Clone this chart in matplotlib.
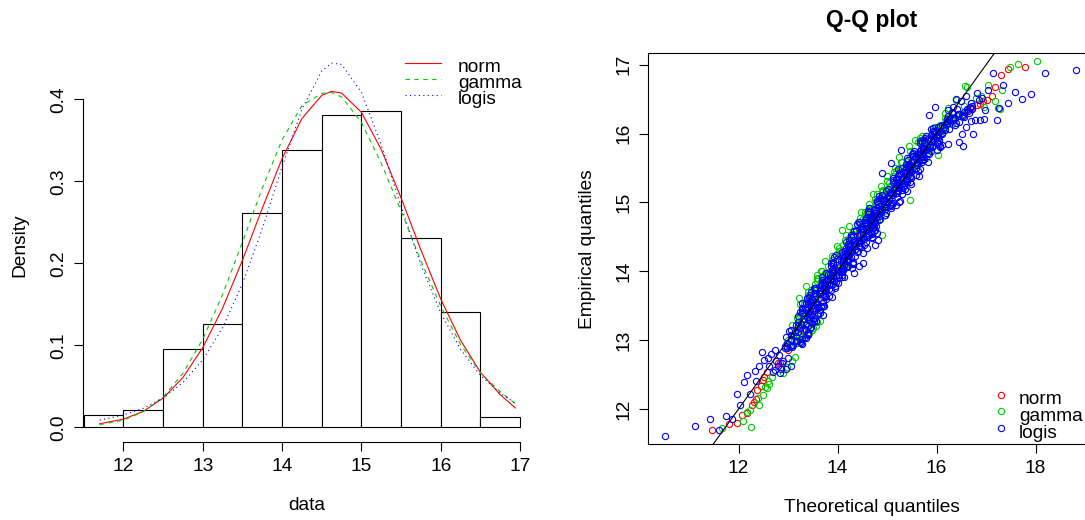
import numpy as np
import matplotlib.pyplot as plt
from matplotlib.lines import Line2D

plt.rcParams['font.family'] = ['Liberation Sans', 'DejaVu Sans']
plt.rcParams['font.size'] = 13.8

W, H = 1085, 520

# histogram (density) of the data
bin_edges = [11.5, 12.0, 12.5, 13.0, 13.5, 14.0, 14.5, 15.0, 15.5, 16.0, 16.5, 17.0]
bin_density = [0.0146, 0.0207, 0.0956, 0.1260, 0.2610, 0.3380, 0.3810, 0.3860, 0.2305, 0.1407, 0.0127]

# fitted densities
curve_x = [11.70, 12.00, 12.25, 12.50, 12.75, 13.00, 13.25, 13.50, 13.75, 14.00, 14.25, 14.50,
           14.625, 14.75, 15.00, 15.25, 15.50, 15.75, 16.00, 16.25, 16.50, 16.75, 16.94]
norm_dens = [0.0045, 0.0100, 0.0196, 0.0357, 0.0609, 0.0973, 0.1456, 0.2039, 0.2673, 0.3280, 0.3768, 0.4051,
             0.4099, 0.4078, 0.3843, 0.3389, 0.2799, 0.2164, 0.1565, 0.1061, 0.0672, 0.0399, 0.0237]
gamma_dens = [0.0033, 0.0088, 0.0191, 0.0371, 0.0659, 0.1077, 0.1621, 0.2260, 0.2919, 0.3508, 0.3925, 0.4075,
              0.4085, 0.4030, 0.3720, 0.3220, 0.2640, 0.2030, 0.1480, 0.1010, 0.0665, 0.0435, 0.0290]
logis_dens = [0.0089, 0.0151, 0.0233, 0.0359, 0.0547, 0.0824, 0.1218, 0.1754, 0.2425, 0.3178, 0.3882, 0.4349,
              0.4443, 0.4428, 0.4088, 0.3448, 0.2694, 0.1982, 0.1396, 0.0952, 0.0635, 0.0418, 0.0295]

# Q-Q points (theoretical, empirical)
norm_qq = [
    (11.47, 11.69), (11.81, 11.78), (11.96, 11.79), (12.06, 11.91), (12.16, 11.94), (12.28, 12.05),
    (12.32, 12.10), (12.36, 12.14), (12.45, 12.33), (12.38, 12.28), (12.50, 12.42), (12.52, 12.46),
    (12.58, 12.53), (12.80, 12.66), (12.83, 12.67),
    (13.00, 12.85), (13.15, 13.00), (13.28, 13.15), (13.40, 13.30), (13.52, 13.45), (13.63, 13.60),
    (13.75, 13.75), (13.87, 13.90), (13.98, 14.02), (14.10, 14.15), (14.22, 14.28), (14.35, 14.40),
    (14.47, 14.52), (14.60, 14.65), (14.72, 14.78), (14.85, 14.90), (14.97, 15.02), (15.10, 15.15),
    (15.23, 15.28), (15.36, 15.40), (15.50, 15.52), (15.63, 15.64), (15.76, 15.76), (15.90, 15.88),
    (16.00, 15.97), (16.05, 16.04), (16.15, 16.12), (16.25, 16.18), (16.35, 16.22),
    (16.44, 16.26), (16.54, 16.29), (16.61, 16.34), (16.71, 16.37), (16.81, 16.42), (16.87, 16.43),
    (16.94, 16.47), (17.01, 16.49), (17.11, 16.54), (17.18, 16.67), (17.30, 16.85), (17.45, 16.94),
    (17.78, 16.97),
]

gamma_qq = [
    # lower tail
    (11.66, 11.72), (12.25, 11.73), (12.09, 11.82), (12.16, 11.96), (12.23, 11.99), (12.41, 12.05),
    (12.40, 12.16), (12.50, 12.20), (12.57, 12.30), (12.53, 12.32), (12.62, 12.36), (12.60, 12.40),
    (12.67, 12.47), (12.90, 12.52), (12.97, 12.61), (13.07, 12.69), (13.14, 12.76),
    # band
    (12.98, 12.90), (13.04, 12.92), (13.01, 12.94), (13.18, 12.96), (13.25, 12.98), (12.99, 13.00),
    (13.24, 13.02), (13.28, 13.04), (13.09, 13.06), (13.30, 13.08), (13.42, 13.10), (13.41, 13.12),
    (13.49, 13.14), (13.19, 13.16), (13.23, 13.18), (13.57, 13.20), (13.22, 13.22), (13.47, 13.24),
    (13.58, 13.26), (13.65, 13.28), (13.08, 13.22), (13.50, 13.17),
    (13.35, 13.30), (13.17, 13.32), (13.22, 13.34), (13.24, 13.36), (13.35, 13.38), (13.40, 13.40),
    (13.53, 13.42), (13.64, 13.44), (13.38, 13.46), (13.69, 13.48), (13.47, 13.50), (13.33, 13.52),
    (13.40, 13.54), (13.51, 13.56), (13.41, 13.58),
    (13.38, 13.60), (13.51, 13.62), (13.68, 13.64), (13.40, 13.66), (13.53, 13.68), (13.64, 13.70),
    (13.46, 13.72), (13.56, 13.74), (13.59, 13.76), (13.63, 13.78), (13.87, 13.80), (13.55, 13.82),
    (13.67, 13.84), (13.73, 13.86), (13.60, 13.88), (13.59, 13.90), (13.76, 13.92), (13.72, 13.94),
    (13.86, 13.96), (13.75, 13.98), (13.66, 14.00), (13.96, 14.02), (14.02, 14.04), (14.13, 14.06),
    (14.13, 14.08), (14.17, 14.10), (13.90, 14.12), (14.20, 14.14), (13.89, 14.16), (14.10, 14.18),
    (13.92, 14.20), (14.04, 14.22), (13.97, 14.24), (14.05, 14.26), (14.20, 14.28), (14.02, 14.30),
    (14.38, 14.32), (14.03, 14.34), (14.23, 14.36), (14.11, 14.38), (14.29, 14.40), (14.42, 14.42),
    (14.42, 14.44), (14.31, 14.46), (14.23, 14.48), (14.50, 14.50), (14.59, 14.52), (14.31, 14.54),
    (14.43, 14.56), (14.48, 14.58), (14.57, 14.60), (14.49, 14.62), (14.68, 14.64), (14.56, 14.66),
    (14.56, 14.68), (14.67, 14.70), (14.58, 14.72), (14.79, 14.74), (14.51, 14.76), (14.78, 14.78),
    (14.62, 14.80), (14.55, 14.82), (14.62, 14.84), (14.56, 14.86), (14.94, 14.88), (14.95, 14.90),
    (14.70, 14.92), (14.96, 14.94), (14.77, 14.96), (14.95, 14.98), (14.81, 15.00), (14.78, 15.02),
    (14.87, 15.04), (15.00, 15.06), (15.02, 15.08), (14.94, 15.10), (14.80, 15.12), (15.05, 15.14),
    (14.90, 15.16), (15.00, 15.18), (15.07, 15.20), (15.07, 15.22), (15.06, 15.24), (15.14, 15.26),
    (15.04, 15.28), (15.27, 15.30), (15.28, 15.32), (15.39, 15.34), (15.32, 15.36), (15.12, 15.38),
    (15.40, 15.40), (15.45, 15.42), (15.13, 15.44), (15.30, 15.46), (15.44, 15.48), (15.27, 15.50),
    (15.48, 15.52), (15.42, 15.54), (15.62, 15.56), (15.30, 15.58),
    (14.09, 14.60), (14.90, 14.53), (15.46, 15.04), (16.03, 15.69),
    (15.40, 15.60), (15.62, 15.62), (15.78, 15.64), (15.46, 15.66), (15.71, 15.68), (15.66, 15.70),
    (15.62, 15.72), (15.67, 15.74), (15.82, 15.76), (15.87, 15.78), (15.90, 15.80), (15.85, 15.82),
    (15.86, 15.84), (16.00, 15.86), (15.63, 15.88), (15.69, 15.90), (15.74, 15.92), (15.67, 15.94),
    (15.94, 15.96), (16.07, 15.98),
    (15.95, 16.00), (15.91, 16.02), (16.10, 16.04), (16.17, 16.06), (16.16, 16.08), (15.96, 16.10),
    (16.07, 16.12), (16.31, 16.14), (16.24, 16.16), (16.32, 16.18), (16.18, 16.20), (16.17, 16.22),
    (16.32, 16.24), (16.43, 16.26), (16.53, 16.28), (16.17, 16.30),
    # left fringe of the band
    (13.24, 13.52), (13.22, 13.61), (13.40, 13.70), (13.37, 13.79), (13.58, 13.86), (13.58, 13.95),
    (13.68, 14.00), (13.81, 14.08), (13.74, 14.15), (13.88, 14.22), (14.02, 14.30), (13.98, 14.36),
    (14.14, 14.45), (14.16, 14.52), (14.31, 14.58), (14.24, 14.66), (14.42, 14.71), (14.45, 14.78),
    (14.47, 14.86), (14.66, 14.92), (14.63, 14.98), (14.75, 15.05), (14.72, 15.12), (14.91, 15.18),
    (14.88, 15.24), (14.99, 15.31), (15.00, 15.38), (15.17, 15.45), (15.16, 15.50), (15.28, 15.58),
    (15.25, 15.66), (15.46, 15.74), (15.45, 15.82), (15.57, 15.90), (15.70, 15.97),
    # upper tail
    (16.23, 16.37), (16.39, 16.49), (16.55, 16.40), (16.70, 16.45), (16.80, 16.52), (16.90, 16.55),
    (16.95, 16.38), (16.62, 16.67), (16.57, 16.69), (17.04, 16.71), (17.18, 16.47), (17.24, 16.37),
    (17.29, 16.35), (17.33, 16.63), (17.48, 16.97), (17.65, 17.01), (18.02, 17.05),
]

logis_qq = [
    # lower tail
    (10.51, 11.60), (11.12, 11.75), (11.42, 11.85), (11.60, 11.70), (11.74, 11.90), (11.86, 11.85),
    (12.03, 12.05), (11.96, 12.22), (12.11, 12.39), (12.17, 12.49), (12.23, 12.22), (12.33, 12.55),
    (12.35, 12.40), (12.42, 12.62), (12.48, 12.83), (12.51, 12.71), (12.60, 12.74), (12.73, 12.86),
    (12.62, 12.63), (12.70, 12.54), (12.82, 12.78), (12.76, 12.70), (12.88, 12.66), (12.66, 12.80),
    (12.85, 12.58), (12.79, 12.62), (12.73, 12.57), (12.83, 12.52), (12.95, 12.58), (13.05, 12.62),
    (12.90, 12.70), (13.00, 12.74),
    # band
    (12.93, 12.88), (12.98, 12.89), (13.07, 12.90), (12.93, 12.91), (13.06, 12.92), (13.10, 12.93),
    (13.28, 12.94), (13.27, 12.95), (12.97, 12.96), (13.25, 12.97), (13.16, 12.98), (13.18, 12.99),
    (13.05, 13.00), (13.29, 13.01), (13.05, 13.02), (13.36, 13.03), (12.96, 13.04), (13.35, 13.05),
    (13.15, 13.06), (13.41, 13.07), (13.06, 13.08), (13.41, 13.09),
    (13.40, 13.10), (13.13, 13.11), (13.20, 13.12), (13.01, 13.13), (13.36, 13.14), (13.05, 13.15),
    (13.35, 13.16), (13.44, 13.17), (13.24, 13.18), (13.46, 13.19), (13.19, 13.20), (13.41, 13.21),
    (13.15, 13.22), (13.27, 13.23), (13.37, 13.24), (13.49, 13.25), (13.21, 13.26), (13.52, 13.27),
    (13.57, 13.28), (13.42, 13.29), (13.51, 13.30), (13.32, 13.31), (13.54, 13.32), (13.42, 13.33),
    (13.38, 13.34),
    (13.20, 13.35), (13.47, 13.36), (13.47, 13.37), (13.61, 13.38), (13.28, 13.39), (13.41, 13.40),
    (13.24, 13.41), (13.51, 13.42), (13.29, 13.43), (13.36, 13.44), (13.35, 13.45), (13.29, 13.46),
    (13.55, 13.47), (13.59, 13.48), (13.70, 13.49), (13.67, 13.50), (13.51, 13.51), (13.36, 13.52),
    (13.57, 13.53), (13.36, 13.54), (13.71, 13.55), (13.46, 13.56), (13.44, 13.57), (13.49, 13.58),
    (13.54, 13.59),
    (13.76, 13.60), (13.39, 13.61), (13.42, 13.62), (13.75, 13.63), (13.75, 13.64), (13.45, 13.65),
    (13.74, 13.66), (13.64, 13.67), (13.55, 13.68), (13.62, 13.69), (13.46, 13.70), (13.77, 13.71),
    (13.55, 13.72), (13.65, 13.73), (13.72, 13.74), (13.55, 13.75), (13.53, 13.76), (13.76, 13.77),
    (13.95, 13.78), (13.73, 13.79), (13.82, 13.80), (13.69, 13.81), (13.78, 13.82), (14.00, 13.83),
    (13.81, 13.84),
    (13.71, 13.85), (13.76, 13.86), (13.68, 13.87), (13.89, 13.88), (13.80, 13.89), (14.02, 13.90),
    (13.68, 13.91), (14.08, 13.92), (13.91, 13.93), (13.96, 13.94), (14.09, 13.95), (13.84, 13.96),
    (13.90, 13.97), (13.76, 13.98), (14.09, 13.99), (14.06, 14.00), (14.02, 14.01), (14.11, 14.02),
    (13.90, 14.03), (14.11, 14.04), (14.08, 14.05), (14.16, 14.06), (13.87, 14.07), (14.04, 14.08),
    (14.13, 14.09),
    (13.90, 14.10), (13.90, 14.11), (13.87, 14.12), (13.90, 14.13), (14.10, 14.14), (14.07, 14.15),
    (14.12, 14.16), (14.18, 14.17), (13.99, 14.18), (14.10, 14.19), (13.92, 14.20), (14.13, 14.21),
    (14.20, 14.22), (13.96, 14.23), (14.19, 14.24), (14.10, 14.25), (14.26, 14.26), (14.19, 14.27),
    (14.08, 14.28), (14.14, 14.29), (14.42, 14.30), (14.28, 14.31), (14.35, 14.32), (14.30, 14.33),
    (14.16, 14.34), (14.46, 14.35), (14.25, 14.36), (14.20, 14.37), (14.25, 14.38), (14.21, 14.39),
    (14.37, 14.40), (14.43, 14.41), (14.16, 14.42), (14.40, 14.43), (14.43, 14.44), (14.23, 14.45),
    (14.43, 14.46), (14.54, 14.47), (14.52, 14.48), (14.59, 14.49), (14.28, 14.50), (14.31, 14.51),
    (14.64, 14.52), (14.28, 14.53), (14.52, 14.54), (14.62, 14.55), (14.68, 14.56), (14.52, 14.57),
    (14.33, 14.58), (14.37, 14.59), (14.38, 14.60), (14.48, 14.61), (14.52, 14.62), (14.64, 14.63),
    (14.74, 14.64), (14.47, 14.65), (14.77, 14.66), (14.54, 14.67), (14.39, 14.68), (14.45, 14.69),
    (14.55, 14.70), (14.44, 14.71), (14.56, 14.72), (14.68, 14.73), (14.84, 14.74), (14.55, 14.75),
    (14.67, 14.76), (14.77, 14.77), (14.58, 14.78), (14.67, 14.79), (14.69, 14.80), (14.72, 14.81),
    (14.95, 14.82), (14.62, 14.83), (14.73, 14.84), (14.78, 14.85), (14.64, 14.86), (14.62, 14.87),
    (14.78, 14.88), (14.73, 14.89), (14.86, 14.90), (14.74, 14.91), (14.64, 14.92), (14.93, 14.93),
    (14.98, 14.94), (15.08, 14.95), (15.07, 14.96), (15.10, 14.97), (14.82, 14.98), (15.11, 14.99),
    (14.79, 15.00), (14.99, 15.01), (14.80, 15.02), (14.91, 15.03), (14.83, 15.04), (14.90, 15.05),
    (15.04, 15.06), (14.85, 15.07), (15.20, 15.08), (14.84, 15.09), (15.03, 15.10), (14.90, 15.11),
    (15.07, 15.12), (15.19, 15.13), (15.18, 15.14), (15.06, 15.15), (14.97, 15.16), (15.23, 15.17),
    (15.31, 15.18), (15.02, 15.19), (15.13, 15.20), (15.17, 15.21), (15.25, 15.22), (15.16, 15.23),
    (15.34, 15.24), (15.21, 15.25), (15.20, 15.26), (15.30, 15.27), (15.20, 15.28), (15.40, 15.29),
    (15.11, 15.30), (15.37, 15.31), (15.20, 15.32), (15.12, 15.33), (15.18, 15.34), (15.11, 15.35),
    (15.48, 15.36), (15.48, 15.37), (15.22, 15.38), (15.47, 15.39), (15.27, 15.40), (15.44, 15.41),
    (15.29, 15.42), (15.25, 15.43), (15.33, 15.44), (15.45, 15.45), (15.46, 15.46), (15.37, 15.47),
    (15.22, 15.48), (15.46, 15.49), (15.30, 15.50), (15.39, 15.51), (15.45, 15.52), (15.44, 15.53),
    (15.42, 15.54), (15.49, 15.55), (15.38, 15.56), (15.60, 15.57), (15.60, 15.58), (15.70, 15.59),
    (15.64, 15.60), (15.43, 15.61), (15.70, 15.62), (15.74, 15.63), (15.41, 15.64), (15.57, 15.65),
    (15.70, 15.66), (15.52, 15.67), (15.72, 15.68), (15.65, 15.69), (15.84, 15.70), (15.51, 15.71),
    (15.52, 15.72), (15.73, 15.73), (15.88, 15.74), (15.55, 15.75), (15.79, 15.76), (15.73, 15.77),
    (15.68, 15.78), (15.72, 15.79), (15.86, 15.80), (15.90, 15.81), (15.92, 15.82), (15.86, 15.83),
    (15.86, 15.84),
    (16.04, 15.85), (15.66, 15.86), (15.71, 15.87), (15.75, 15.88), (15.67, 15.89), (15.93, 15.90),
    (16.05, 15.91), (15.82, 15.92), (15.77, 15.93), (15.95, 15.94), (16.01, 15.95), (15.99, 15.96),
    (15.78, 15.97), (15.88, 15.98), (16.11, 15.99), (16.03, 16.00), (16.10, 16.01), (15.95, 16.02),
    (15.93, 16.03), (16.07, 16.04), (16.17, 16.05), (16.26, 16.06), (15.89, 16.07), (15.93, 16.08),
    (16.03, 16.09),
    (16.14, 16.10), (16.06, 16.11), (16.38, 16.12), (16.10, 16.13), (16.22, 16.14), (16.40, 16.15),
    (16.22, 16.16), (16.45, 16.17), (16.20, 16.18), (16.25, 16.19), (16.34, 16.20), (16.20, 16.21),
    (16.33, 16.22), (16.37, 16.23), (16.55, 16.24), (16.54, 16.25), (16.24, 16.26), (16.52, 16.27),
    (16.43, 16.28), (16.45, 16.29), (16.32, 16.30), (16.56, 16.31), (16.32, 16.32), (16.63, 16.33),
    (16.23, 16.34), (16.62, 16.35), (16.42, 16.36), (16.68, 16.37), (16.33, 16.38), (16.68, 16.39),
    (16.72, 16.40),
    # band, right-hand side
    (13.64, 13.40), (13.44, 13.42), (13.65, 13.44), (13.50, 13.46), (13.41, 13.48), (13.72, 13.50),
    (13.43, 13.52), (13.54, 13.54), (13.56, 13.56), (13.49, 13.58), (13.48, 13.60), (13.88, 13.62),
    (13.82, 13.64), (13.75, 13.66), (13.64, 13.68), (13.69, 13.70), (13.87, 13.72), (13.83, 13.74),
    (13.94, 13.76), (13.74, 13.78), (13.67, 13.80), (13.91, 13.82), (13.96, 13.84), (13.93, 13.86),
    (13.78, 13.88), (13.86, 13.90), (14.12, 13.92), (14.03, 13.94), (13.80, 13.96), (13.91, 13.98),
    (13.90, 14.00), (13.88, 14.02), (14.29, 14.04), (14.19, 14.06), (14.22, 14.08), (14.31, 14.10),
    (14.32, 14.12), (14.31, 14.14), (14.20, 14.16), (14.19, 14.18), (14.27, 14.20), (14.36, 14.22),
    (14.15, 14.24), (14.51, 14.26), (14.39, 14.28), (14.21, 14.30), (14.23, 14.32), (14.59, 14.34),
    (14.43, 14.36), (14.53, 14.38), (14.36, 14.40), (14.57, 14.42), (14.47, 14.44), (14.34, 14.46),
    (14.70, 14.48), (14.69, 14.50), (14.45, 14.52), (14.69, 14.54), (14.80, 14.56), (14.73, 14.58),
    (14.76, 14.60), (14.57, 14.62), (14.71, 14.64), (14.67, 14.66), (14.72, 14.68), (14.76, 14.70),
    (14.73, 14.72), (14.67, 14.74), (14.86, 14.76), (14.65, 14.78), (14.83, 14.80), (14.95, 14.82),
    (14.97, 14.84), (14.88, 14.86), (14.83, 14.88), (14.90, 14.90), (15.08, 14.92), (14.94, 14.94),
    (15.17, 14.96), (14.95, 14.98), (15.24, 15.00), (15.27, 15.02), (14.93, 15.04), (15.03, 15.06),
    (15.00, 15.08), (15.11, 15.10), (15.31, 15.12), (15.08, 15.14), (15.40, 15.16), (15.23, 15.18),
    (15.36, 15.20), (15.29, 15.22), (15.33, 15.24), (15.49, 15.26), (15.34, 15.28), (15.46, 15.30),
    (15.41, 15.32), (15.40, 15.34), (15.32, 15.36), (15.64, 15.38), (15.59, 15.40), (15.36, 15.42),
    (15.48, 15.44), (15.63, 15.46), (15.67, 15.48), (15.58, 15.50), (15.44, 15.52), (15.60, 15.54),
    (15.44, 15.56), (15.83, 15.58), (15.51, 15.60), (15.73, 15.62), (15.62, 15.64), (15.58, 15.66),
    (15.69, 15.68), (15.61, 15.70), (15.83, 15.72), (15.66, 15.74), (16.01, 15.76), (15.75, 15.78),
    (16.06, 15.80), (16.06, 15.82), (16.10, 15.84), (16.03, 15.86), (16.01, 15.88), (15.75, 15.90),
    (15.88, 15.92), (16.03, 15.94), (15.93, 15.96), (16.01, 15.98),
    # scattered points off the band
    (14.43, 14.07), (14.52, 14.12), (14.33, 13.98), (14.76, 14.38), (14.82, 14.45), (14.90, 15.43),
    (15.07, 15.57), (15.29, 15.76), (13.29, 13.54), (13.71, 13.37),
    # upper tail
    (16.54, 15.82), (16.24, 15.85), (16.45, 15.88), (16.52, 16.00), (16.74, 16.00), (16.60, 16.10),
    (16.70, 16.18), (16.77, 16.20), (16.87, 16.20), (16.95, 16.21), (16.66, 16.30), (16.98, 16.34),
    (16.71, 16.35), (17.26, 16.37), (15.96, 16.39), (17.45, 16.44), (16.70, 16.45), (17.72, 16.50),
    (16.60, 16.55), (17.90, 16.58), (16.81, 16.59), (17.58, 16.61), (17.04, 16.63), (17.35, 16.71),
    (17.14, 16.88), (18.19, 16.88), (18.81, 16.92), (17.21, 16.20), (15.84, 16.27), (16.85, 16.48),
    (16.92, 16.52), (16.50, 16.47), (16.40, 16.50),
]

fit_names = ['norm', 'gamma', 'logis']
fit_colors = ['#FF0000', '#00CD00', '#0000FF']
fit_styles = ['-', (0, (4, 4)), (0, (1, 3))]

fig = plt.figure(figsize=(W / 100, H / 100), dpi=100)

# ---- density comparison ----
ax1 = fig.add_axes([83 / W, (H - 442) / H, 449 / W, 394 / H])
ax1.bar(bin_edges[:-1], bin_density, width=np.diff(bin_edges), align='edge',
        facecolor='white', edgecolor='black', linewidth=0.8)
for dens, col, ls in zip([norm_dens, gamma_dens, logis_dens], fit_colors, fit_styles):
    ax1.plot(curve_x, dens, color=col, linestyle=ls, linewidth=0.8)
ax1.set_xlim(11.49, 17.15)
ax1.set_ylim(-0.0178, 0.4628)
for s in ['top', 'right']:
    ax1.spines[s].set_visible(False)
ax1.spines['left'].set_bounds(0, 0.4)
ax1.spines['bottom'].set_bounds(12, 17)
ax1.set_xticks([12, 13, 14, 15, 16, 17])
ax1.set_yticks([0, 0.1, 0.2, 0.3, 0.4])
ax1.set_yticklabels(['0.0', '0.1', '0.2', '0.3', '0.4'], rotation=90, va='center')
fig.text(307 / W, 1 - 505 / H, 'data', ha='center', va='center')
fig.text(20 / W, 1 - 245 / H, 'Density', ha='center', va='center', rotation=90)

for i, (name, col, ls) in enumerate(zip(fit_names, fit_colors, fit_styles)):
    ly = [63, 79, 94.5][i]
    fig.add_artist(Line2D([405 / W, 441 / W], [1 - ly / H] * 2, color=col, linestyle=ls,
                          linewidth=0.8, transform=fig.transFigure))
    fig.text(458 / W, 1 - [72.5, 88, 103.5][i] / H, name, ha='left', va='baseline')

# ---- Q-Q plot ----
ax2 = fig.add_axes([648 / W, (H - 444) / H, 449 / W, 391 / H])
for pts, col in zip([norm_qq, gamma_qq, logis_qq], fit_colors):
    qx, qy = np.array(pts).T
    ax2.plot(qx, qy, 'o', mfc='none', mec=col, ms=4.5, mew=0.8, linestyle='none')
ax2.axline((12, 12), slope=1, color='black', linewidth=0.8)
ax2.set_xlim(10.17, 19.24)
ax2.set_ylim(11.49, 17.17)
ax2.set_xticks([12, 14, 16, 18])
ax2.set_yticks([12, 13, 14, 15, 16, 17])
ax2.set_yticklabels(['12', '13', '14', '15', '16', '17'], rotation=90, va='center')
fig.text(872 / W, 1 - 20 / H, 'Q-Q plot', ha='center', va='center', fontsize=16.5, fontweight='bold')
fig.text(872 / W, 1 - 507 / H, 'Theoretical quantiles', ha='center', va='center')
fig.text(587 / W, 1 - 249 / H, 'Empirical quantiles', ha='center', va='center', rotation=90)

for i, (name, col) in enumerate(zip(fit_names, fit_colors)):
    my = [394.5, 411, 427.5][i]
    fig.add_artist(Line2D([1001 / W], [1 - my / H], marker='o', mfc='none', mec=col, ms=4.5,
                          mew=0.8, linestyle='none', transform=fig.transFigure))
    fig.text(1019 / W, 1 - (my + 10) / H, name, ha='left', va='baseline')

for ax in (ax1, ax2):
    for s in ax.spines.values():
        s.set_linewidth(0.8)
    ax.tick_params(length=6.5, width=0.8, direction='out', pad=5, labelsize=13.8)

fig.savefig('out.png', dpi=100)
